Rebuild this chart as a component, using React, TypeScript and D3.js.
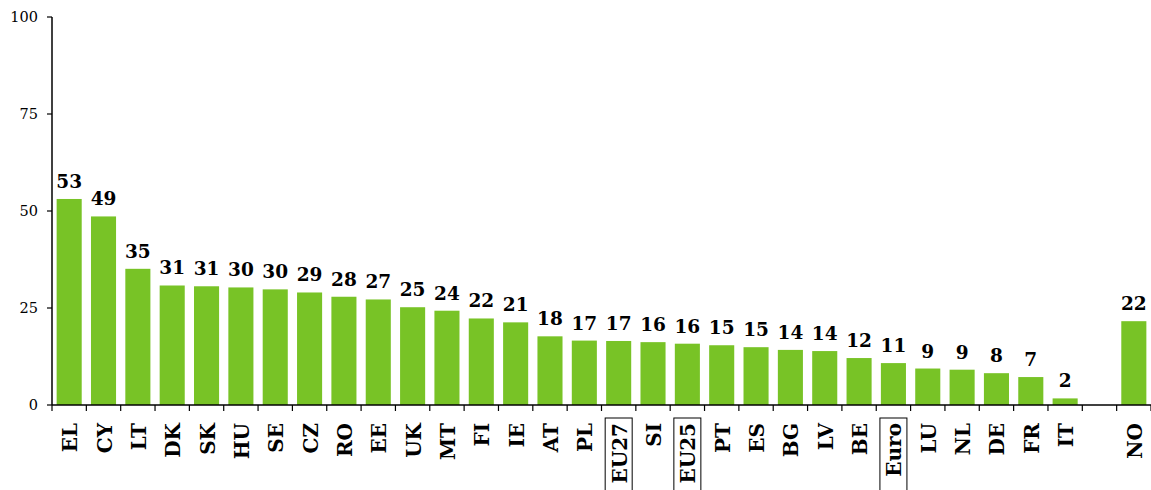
import * as d3 from "d3";
import { useEffect, useRef } from "react";

const categories = ["EL", "CY", "LT", "DK", "SK", "HU", "SE", "CZ", "RO", "EE", "UK", "MT", "FI", "IE", "AT", "PL", "EU27", "SI", "EU25", "PT", "ES", "BG", "LV", "BE", "Euro", "LU", "NL", "DE", "FR", "IT", "", "NO"];
const values: (number | null)[] = [53.1, 48.6, 35.1, 30.8, 30.6, 30.3, 29.8, 29.0, 27.9, 27.2, 25.2, 24.3, 22.3, 21.3, 17.7, 16.6, 16.5, 16.2, 15.8, 15.4, 14.9, 14.2, 13.9, 12.1, 10.8, 9.4, 9.1, 8.2, 7.2, 1.7, null, 21.6];
const boxed = ["EU27", "EU25", "Euro"];
const yTicks = [0, 25, 50, 75, 100];

export default function App() {
    const svgRef = useRef<SVGSVGElement>(null);

    useEffect(() => {
        const svg = d3.select(svgRef.current);
        svg.selectAll("*").remove();

        const width = 1151;
        const height = 490;
        const margin = { top: 17, right: 0, bottom: 85, left: 52 };
        const font = "'DejaVu Serif', serif";

        const slots = categories.map((c, i) => `${i}`);
        const x = d3.scaleBand()
            .domain(slots)
            .range([margin.left, width - margin.right])
            .paddingInner(0.27)
            .paddingOuter(0.135);

        const y = d3.scaleLinear()
            .domain([0, 100])
            .range([height - margin.bottom, margin.top]);

        const step = x.step();
        const x0 = margin.left;
        const points = values.map((v, i) => ({ v, i })).filter(d => d.v !== null);

        // Bars
        svg.append("g")
            .selectAll("rect")
            .data(points)
            .enter()
            .append("rect")
            .attr("x", d => x(`${d.i}`)!)
            .attr("y", d => y(d.v as number))
            .attr("width", x.bandwidth())
            .attr("height", d => y(0) - y(d.v as number))
            .attr("fill", "#78c326");

        // Value labels
        svg.append("g")
            .selectAll("text")
            .data(points)
            .enter()
            .append("text")
            .attr("x", d => x(`${d.i}`)! + x.bandwidth() / 2)
            .attr("y", d => y(d.v as number) - 11)
            .attr("text-anchor", "middle")
            .attr("font-family", font)
            .attr("font-weight", "bold")
            .attr("font-size", "18.5px")
            .attr("fill", "#000")
            .text(d => Math.round(d.v as number));

        // Y axis
        const yAxis = svg.append("g");
        yAxis.append("line")
            .attr("x1", x0).attr("x2", x0)
            .attr("y1", y(100)).attr("y2", y(0))
            .attr("stroke", "#000").attr("stroke-width", 1.5);
        yTicks.forEach(t => {
            yAxis.append("line")
                .attr("x1", x0 - 5).attr("x2", x0)
                .attr("y1", y(t)).attr("y2", y(t))
                .attr("stroke", "#000").attr("stroke-width", 1.2);
            yAxis.append("text")
                .attr("x", x0 - 14)
                .attr("y", y(t) + 5)
                .attr("text-anchor", "end")
                .attr("font-family", font)
                .attr("font-size", "14.5px")
                .attr("fill", "#000")
                .text(t);
        });

        // X axis
        const xAxis = svg.append("g");
        xAxis.append("line")
            .attr("x1", x0).attr("x2", width)
            .attr("y1", y(0)).attr("y2", y(0))
            .attr("stroke", "#000").attr("stroke-width", 1.5);
        d3.range(categories.length + 1).forEach(i => {
            const tx = x0 + i * step;
            xAxis.append("line")
                .attr("x1", tx).attr("x2", tx)
                .attr("y1", y(0)).attr("y2", y(0) + 6)
                .attr("stroke", "#000").attr("stroke-width", 1.2);
        });

        // Category labels
        categories.forEach((c, i) => {
            if (!c) return;
            const cx = x(`${i}`)! + x.bandwidth() / 2;
            const ty = y(0) + 18;
            if (boxed.includes(c)) {
                xAxis.append("rect")
                    .attr("x", cx - 13.5)
                    .attr("y", y(0) + 13)
                    .attr("width", 27)
                    .attr("height", 80)
                    .attr("fill", "none")
                    .attr("stroke", "#000")
                    .attr("stroke-width", 1);
            }
            xAxis.append("text")
                .attr("transform", `translate(${cx + 8},${ty}) rotate(-90)`)
                .attr("text-anchor", "end")
                .attr("font-family", font)
                .attr("font-weight", "bold")
                .attr("font-size", "20px")
                .attr("fill", "#000")
                .text(c);
        });
    }, []);

    return <svg ref={svgRef} width={1151} height={490} style={{ position: "absolute", left: 0, top: 0 }} />;
}
